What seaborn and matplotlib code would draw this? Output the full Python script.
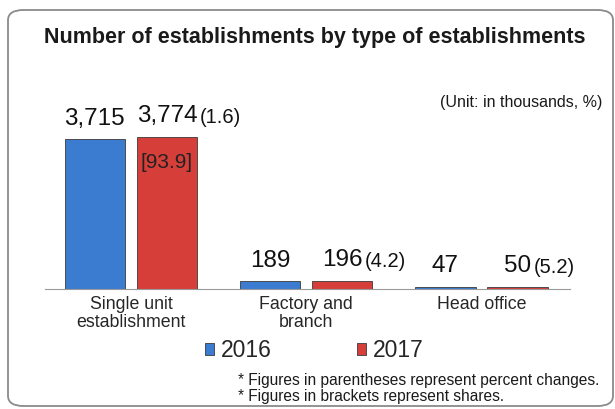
import matplotlib
matplotlib.use("Agg")
import matplotlib.pyplot as plt
from matplotlib.patches import FancyBboxPatch
import pandas as pd
import seaborn as sns

categories = ["Single unit\nestablishment", "Factory and\nbranch", "Head office"]
years = ["2016", "2017"]
values_2016 = [3715, 189, 47]
values_2017 = [3774, 196, 50]
changes_2017 = ["(1.6)", "(4.2)", "(5.2)"]
shares_2017 = ["[93.9]", "", ""]

df = pd.DataFrame({
    "category": categories * 2,
    "year": [years[0]] * 3 + [years[1]] * 3,
    "value": values_2016 + values_2017,
})

sns.set_style("white")
plt.rcParams["font.family"] = ["Liberation Sans", "DejaVu Sans"]

W, H = 615, 409
fig = plt.figure(figsize=(W / 100, H / 100), dpi=100)
ax = fig.add_axes([45 / W, (H - 289) / H, 525 / W, 181.2 / H])

palette = {"2016": "#3b7bd0", "2017": "#d63e3a"}
sns.barplot(data=df, x="category", y="value", hue="year", palette=palette,
            width=0.822, gap=0.16, saturation=1, edgecolor="#3a3a3a",
            linewidth=0.6, ax=ax)

ax.set_xlim(-0.49, 2.505)
ax.set_ylim(0, 4500)
ax.set_xlabel("")
ax.set_ylabel("")
ax.set_yticks([])
for s in ["top", "left", "right"]:
    ax.spines[s].set_visible(False)
ax.spines["bottom"].set_color("#9a9a9a")
ax.tick_params(axis="x", length=0, labelsize=12.8, pad=5)
for t in ax.get_xticklabels():
    t.set_linespacing(1.05)

# value labels above bars
off = 0.2055
for i in range(3):
    ax.annotate(f"{values_2016[i]:,}", (i - off, values_2016[i]),
                xytext=(0, 15), textcoords="offset points",
                ha="center", va="center", fontsize=17.5, color="#111111")
    t17 = ax.annotate(f"{values_2017[i]:,}", (i + off, values_2017[i]),
                      xytext=(0, 15), textcoords="offset points",
                      ha="center", va="center", fontsize=17.5, color="#111111")
    ax.annotate(changes_2017[i], (1, 0), xycoords=t17,
                xytext=(2, 0), textcoords="offset points",
                ha="left", va="bottom", fontsize=14.5, color="#111111")
ax.annotate(shares_2017[0], (off, values_2017[0]), xytext=(0, -18),
            textcoords="offset points", ha="center", va="center",
            fontsize=15, color="#222222")

fig.text(315 / W, 1 - 38 / H, "Number of establishments by type of establishments",
         ha="center", va="center", fontsize=15.5, fontweight="bold", color="#1a1a1a")
fig.text(602 / W, 1 - 102 / H, "(Unit: in thousands, %)", ha="right", va="center",
         fontsize=11.5, color="#1a1a1a")

ax.legend(loc="center", bbox_to_anchor=(0.513, -0.342), ncol=2, frameon=False,
          fontsize=16.5, handlelength=0.4, handleheight=0.4, handletextpad=0.3,
          columnspacing=3.7, borderpad=0)

fig.text(238 / W, 1 - 380 / H, "* Figures in parentheses represent percent changes.",
         ha="left", va="center", fontsize=11.2, color="#1a1a1a")
fig.text(238 / W, 1 - 397 / H, "* Figures in brackets represent shares.",
         ha="left", va="center", fontsize=11.2, color="#1a1a1a")

border = FancyBboxPatch((8 / W, 3 / H), 605 / W, 396 / H,
                        boxstyle="round,pad=0,rounding_size=0.025",
                        transform=fig.transFigure, fill=False,
                        edgecolor="#8a8a8a", linewidth=1.3)
fig.patches.append(border)

fig.savefig("out.png", dpi=100)
